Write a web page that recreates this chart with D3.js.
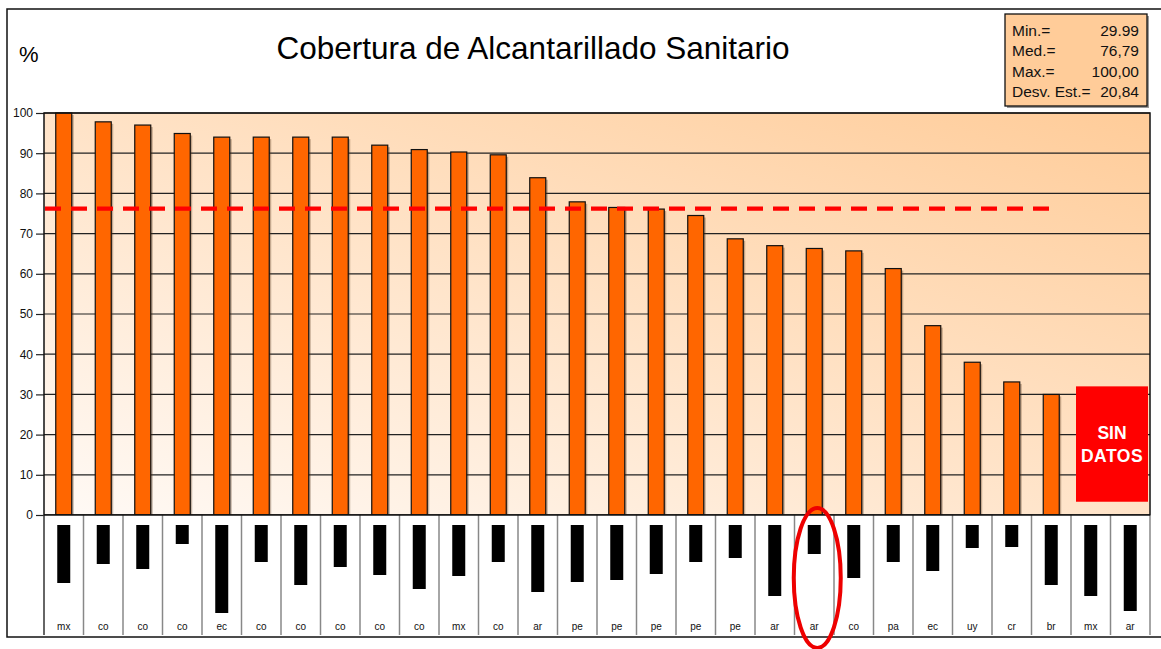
<!DOCTYPE html>
<html>
<head>
<meta charset="utf-8">
<script src="https://cdn.jsdelivr.net/npm/d3@7"></script>
<style>
  body { margin: 0; background: #fff; }
  text { font-family: Arial, "Liberation Sans", sans-serif; }
</style>
</head>
<body>
<div id="chart"></div>
<script>
// data
var paises = ["mx","co","co","co","ec","co","co","co","co","co","mx","co","ar","pe",
              "pe","pe","pe","pe","ar","ar","co","pa","ec","uy","cr","br","mx","ar"];
var cobertura = [100, 97.8, 97.0, 94.9, 94.0, 94.0, 94.0, 94.0, 92.0, 90.9, 90.3, 89.6, 83.9, 77.9,
                 76.5, 76.1, 74.5, 68.7, 67.0, 66.3, 65.7, 61.3, 47.1, 38.0, 33.1, 29.99, null, null];
// length of the blacked-out city names under each bar
var largoNombre = [58, 39, 44, 19, 88, 37, 60, 42, 50, 64, 51, 37, 67, 57,
                   55, 49, 37, 33, 71, 29, 53, 37, 46, 23, 22, 60, 71, 86];
var yTicks = [0, 10, 20, 30, 40, 50, 60, 70, 80, 90, 100];
var promedio = 76.2;        // dashed line as drawn
var lineaHasta = 25;        // dashed line ends at this category
var marcado = 19;           // circled category
var sinDatos = [26, 27];    // categories with no data
var statLabels = ["Min.=", "Med.=", "Max.=", "Desv. Est.="];
var statValues = ["29.99", "76,79", "100,00", "20,84"];

var W = 1161, H = 649;
var plot = {left: 44, right: 1150, top: 113, bottom: 515, strip: 635};

var svg = d3.select("#chart").append("svg")
    .attr("width", W)
    .attr("height", H);

var defs = svg.append("defs");
var grad = defs.append("linearGradient")
    .attr("id", "fondo")
    .attr("x1", "0%").attr("y1", "100%")
    .attr("x2", "100%").attr("y2", "0%");
grad.append("stop").attr("offset", "0%").attr("stop-color", "#fffaf6");
grad.append("stop").attr("offset", "100%").attr("stop-color", "#ffcc99");

// outer frame
svg.append("rect")
    .attr("x", 7).attr("y", 9)
    .attr("width", 1170).attr("height", 628)
    .attr("fill", "#fff")
    .attr("stroke", "#111")
    .attr("stroke-width", 1.5);

var idx = d3.range(paises.length);
var X = d3.scaleBand()
    .domain(idx)
    .range([plot.left, plot.right]);
var Y = d3.scaleLinear()
    .domain([0, 100])
    .range([plot.bottom, plot.top]);
// scale for the black name bars in the strip under the axis
var N = d3.scaleLinear()
    .domain([0, 100])
    .range([plot.bottom + 10, plot.bottom + 110]);

// plot background
svg.append("rect")
    .attr("x", plot.left).attr("y", plot.top)
    .attr("width", plot.right - plot.left)
    .attr("height", plot.bottom - plot.top)
    .attr("fill", "url(#fondo)");

// gridlines
svg.append("g")
  .selectAll("line")
  .data(yTicks.slice(1))
  .enter()
  .append("line")
    .attr("x1", plot.left).attr("x2", plot.right)
    .attr("y1", function(d) { return Y(d); })
    .attr("y2", function(d) { return Y(d); })
    .attr("stroke", "#222")
    .attr("stroke-width", 1.2);

// y axis
var yAxis = svg.append("g")
    .attr("transform", "translate(" + plot.left + ",0)")
    .call(d3.axisLeft(Y).tickValues(yTicks).tickSize(8).tickPadding(3));
yAxis.select(".domain").remove();
yAxis.selectAll("line").attr("stroke", "#222").attr("stroke-width", 1.2);
yAxis.selectAll("text")
    .style("font-size", "12px")
    .style("font-family", "Arial, 'Liberation Sans', sans-serif")
    .attr("fill", "#111");

// bars (with a faint shadow)
var conDatos = idx.filter(function(i) { return cobertura[i] != null; });
var bw = 16;
svg.append("g")
  .selectAll("rect")
  .data(conDatos)
  .enter()
  .append("rect")
    .attr("x", function(i) { return X(i) + X.bandwidth() / 2 - bw / 2 + 2; })
    .attr("y", function(i) { return Y(cobertura[i]) + 2; })
    .attr("width", bw)
    .attr("height", function(i) { return Y(0) - Y(cobertura[i]) - 2; })
    .attr("fill", "#5a3a20")
    .attr("opacity", 0.35);
svg.append("g")
  .selectAll("rect")
  .data(conDatos)
  .enter()
  .append("rect")
    .attr("x", function(i) { return X(i) + X.bandwidth() / 2 - bw / 2; })
    .attr("y", function(i) { return Y(cobertura[i]); })
    .attr("width", bw)
    .attr("height", function(i) { return Y(0) - Y(cobertura[i]); })
    .attr("fill", "#ff6600")
    .attr("stroke", "#111")
    .attr("stroke-width", 1.2);

// plot frame
svg.append("rect")
    .attr("x", plot.left).attr("y", plot.top)
    .attr("width", plot.right - plot.left)
    .attr("height", plot.bottom - plot.top)
    .attr("fill", "none")
    .attr("stroke", "#111")
    .attr("stroke-width", 1.5);

// category strip
svg.append("rect")
    .attr("x", plot.left).attr("y", plot.bottom)
    .attr("width", plot.right - plot.left)
    .attr("height", plot.strip - plot.bottom)
    .attr("fill", "#fff");
svg.append("g")
  .selectAll("line")
  .data(idx.concat([paises.length]))
  .enter()
  .append("line")
    .attr("x1", function(i) { return i < paises.length ? X(i) : plot.right; })
    .attr("x2", function(i) { return i < paises.length ? X(i) : plot.right; })
    .attr("y1", plot.bottom)
    .attr("y2", plot.strip)
    .attr("stroke", function(i) { return i == 0 ? "#333" : "#888"; })
    .attr("stroke-width", 1.5);
svg.append("line")
    .attr("x1", plot.left).attr("x2", plot.right)
    .attr("y1", plot.bottom).attr("y2", plot.bottom)
    .attr("stroke", "#111")
    .attr("stroke-width", 1.5);

// blacked-out names
svg.append("g")
  .selectAll("rect")
  .data(idx)
  .enter()
  .append("rect")
    .attr("x", function(i) { return X(i) + X.bandwidth() / 2 - 6.5; })
    .attr("y", N(0))
    .attr("width", 13)
    .attr("height", function(i) { return N(largoNombre[i]) - N(0); })
    .attr("fill", "#000");

// country codes
svg.append("g")
  .selectAll("text")
  .data(idx)
  .enter()
  .append("text")
    .attr("x", function(i) { return X(i) + X.bandwidth() / 2; })
    .attr("y", plot.strip - 5)
    .attr("text-anchor", "middle")
    .style("font-size", "10px")
    .attr("fill", "#111")
    .text(function(i) { return paises[i]; });

// dashed mean line
svg.append("line")
    .attr("x1", plot.left + 1)
    .attr("x2", X(lineaHasta) + X.bandwidth() / 2)
    .attr("y1", Y(promedio))
    .attr("y2", Y(promedio))
    .attr("stroke", "#ff0000")
    .attr("stroke-width", 4.3)
    .attr("stroke-dasharray", "16,10");

// SIN DATOS box
var x0 = X(sinDatos[0]) + 5, x1 = X(sinDatos[1]) + X.bandwidth() - 2;
svg.append("rect")
    .attr("x", x0).attr("y", Y(32))
    .attr("width", x1 - x0)
    .attr("height", Y(3.3) - Y(32))
    .attr("fill", "#ff0000");
svg.append("text")
    .attr("x", (x0 + x1) / 2)
    .attr("y", Y(18.9))
    .attr("text-anchor", "middle")
    .attr("fill", "#fff")
    .style("font-size", "17.5px")
    .style("font-weight", "bold")
    .text("SIN");
svg.append("text")
    .attr("x", (x0 + x1) / 2)
    .attr("y", Y(13.1))
    .attr("text-anchor", "middle")
    .attr("fill", "#fff")
    .style("font-size", "17.5px")
    .style("font-weight", "bold")
    .style("letter-spacing", "0.5px")
    .text("DATOS");

// circled category
svg.append("ellipse")
    .attr("cx", X(marcado) + X.bandwidth() / 2 + 3)
    .attr("cy", 578)
    .attr("rx", 23.5)
    .attr("ry", 70)
    .attr("fill", "none")
    .attr("stroke", "#ee0000")
    .attr("stroke-width", 4);

// title and unit
svg.append("text")
    .attr("x", 533)
    .attr("y", 59)
    .attr("text-anchor", "middle")
    .style("font-size", "31.5px")
    .attr("fill", "#000")
    .text("Cobertura de Alcantarillado Sanitario");
svg.append("text")
    .attr("x", 19)
    .attr("y", 62)
    .style("font-size", "22px")
    .attr("fill", "#000")
    .text("%");

// stats box
svg.append("rect")
    .attr("x", 1007).attr("y", 16)
    .attr("width", 142).attr("height", 92)
    .attr("fill", "#999");
svg.append("rect")
    .attr("x", 1005).attr("y", 14)
    .attr("width", 142).attr("height", 92)
    .attr("fill", "#ffcc99")
    .attr("stroke", "#111")
    .attr("stroke-width", 1.3);
var stats = svg.append("g");
stats.selectAll(".lbl")
  .data(statLabels)
  .enter()
  .append("text")
    .attr("class", "lbl")
    .attr("x", 1012)
    .attr("y", function(d, i) { return 36 + i * 20.3; })
    .style("font-size", "15.5px")
    .attr("fill", "#111")
    .text(function(d) { return d; });
stats.selectAll(".val")
  .data(statValues)
  .enter()
  .append("text")
    .attr("class", "val")
    .attr("x", 1139)
    .attr("y", function(d, i) { return 36 + i * 20.3; })
    .attr("text-anchor", "end")
    .style("font-size", "15.5px")
    .attr("fill", "#111")
    .text(function(d) { return d; });
</script>
</body>
</html>
